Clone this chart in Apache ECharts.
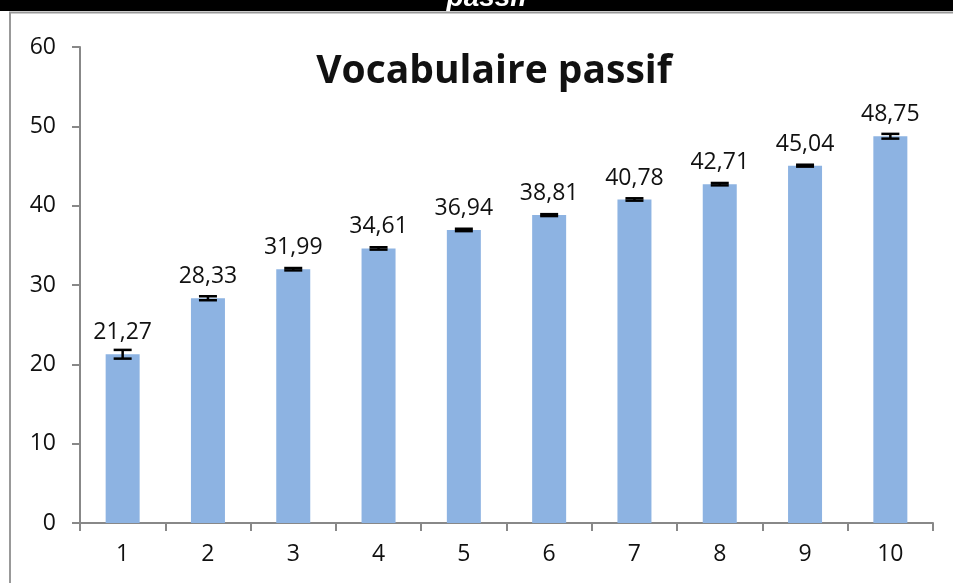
<!DOCTYPE html>
<html>
<head>
<meta charset="utf-8">
<script src="https://cdn.jsdelivr.net/npm/echarts@6/dist/echarts.min.js"></script>
<style>
  html, body { margin: 0; padding: 0; background: #fff; }
  #chart { width: 953px; height: 583px; }
</style>
</head>
<body>
<div id="chart"></div>
<script>
// data
var categories = ['1', '2', '3', '4', '5', '6', '7', '8', '9', '10'];
var values = [21.27, 28.33, 31.99, 34.61, 36.94, 38.81, 40.78, 42.71, 45.04, 48.75];
var labels = ['21,27', '28,33', '31,99', '34,61', '36,94', '38,81', '40,78', '42,71', '45,04', '48,75'];
var errors = [0.55, 0.25, 0.15, 0.15, 0.15, 0.12, 0.15, 0.15, 0.12, 0.3];

var chart = echarts.init(document.getElementById('chart'));

var errData = values.map(function (v, i) { return [i, v - errors[i], v + errors[i]]; });

var option = {
    animation: false,
    textStyle: { fontFamily: 'Open Sans' },
    title: {
        text: 'Vocabulaire passif',
        left: 489,
        textAlign: 'center',
        top: 47,
        textStyle: { fontSize: 39, fontWeight: 'bold', color: '#111', fontFamily: 'Open Sans' }
    },
    graphic: [
        { type: 'rect', shape: { x: 0, y: 0, width: 953, height: 11 }, style: { fill: '#000' } },
        { type: 'rect', shape: { x: 0, y: 0, width: 4, height: 12 }, style: { fill: '#000' } },
        { type: 'text', x: 487, y: 12, style: { text: 'passif', fill: '#fff', font: 'italic bold 28px "Liberation Sans"', textAlign: 'center', textVerticalAlign: 'bottom' }, z: 1 },
        { type: 'rect', shape: { x: 0, y: 11, width: 953, height: 20 }, style: { fill: '#fff' }, z: 2 },
        { type: 'polyline', shape: { points: [[10, 600], [10, 12.5], [960, 12.5]] }, style: { stroke: '#999', lineWidth: 2, fill: null }, z: 3 }
    ],
    grid: { left: 80, right: 20, top: 47, bottom: 60 },
    xAxis: {
        type: 'category',
        data: categories,
        axisLine: { lineStyle: { color: '#888', width: 2 } },
        axisTick: { show: true, length: 8, lineStyle: { color: '#888', width: 2 } },
        axisLabel: { color: '#111', fontSize: 23, margin: 20 }
    },
    yAxis: {
        type: 'value',
        min: 0, max: 60, interval: 10,
        splitLine: { show: false },
        axisLine: { show: true, lineStyle: { color: '#888', width: 2 } },
        axisTick: { show: true, length: 8, lineStyle: { color: '#888', width: 2 } },
        axisLabel: { color: '#111', fontSize: 23, margin: 24 }
    },
    series: [
        {
            type: 'bar',
            data: values,
            barWidth: 34,
            itemStyle: { color: '#8db3e2' },
            label: {
                show: true, position: 'top', distance: 10, color: '#111', fontSize: 23,
                formatter: function (p) { return labels[p.dataIndex]; }
            },
            z: 2
        },
        {
            type: 'custom',
            data: errData,
            z: 5,
            renderItem: function (params, api) {
                var x = api.coord([api.value(0), api.value(1)])[0];
                var lo = api.coord([api.value(0), api.value(1)])[1];
                var hi = api.coord([api.value(0), api.value(2)])[1];
                var hw = 9;
                var st = { stroke: '#000', lineWidth: 2.5 };
                return {
                    type: 'group',
                    children: [
                        { type: 'line', shape: { x1: x, y1: lo, x2: x, y2: hi }, style: st },
                        { type: 'line', shape: { x1: x - hw, y1: lo, x2: x + hw, y2: lo }, style: st },
                        { type: 'line', shape: { x1: x - hw, y1: hi, x2: x + hw, y2: hi }, style: st }
                    ]
                };
            }
        }
    ]
};

chart.setOption(option);
</script>
</body>
</html>
